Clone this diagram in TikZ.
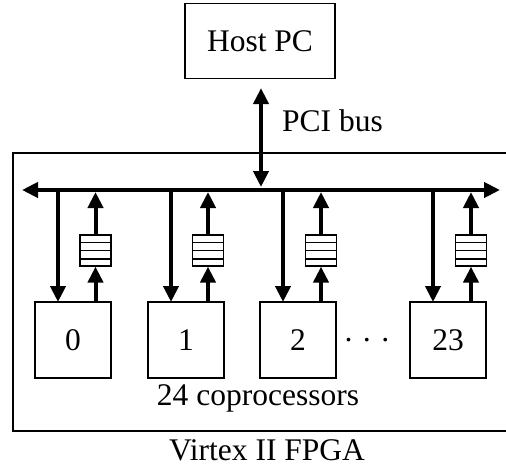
\documentclass[tikz,border=0pt]{standalone}
\usepackage{fontspec}
\setmainfont{Liberation Serif}
\usetikzlibrary{arrows.meta}
\begin{document}
\begin{tikzpicture}[x=1pt,y=-1pt,
  thinbox/.style={draw,line width=1.2pt,inner sep=0pt,minimum width=75pt,minimum height=75pt,font=\fontsize{31.5}{36}\selectfont},
  fifo/.style={draw,line width=1.2pt,inner sep=0pt,minimum width=31pt,minimum height=31pt},
  thick arrow/.style={line width=4pt,-{Triangle[length=16pt,width=15pt]}},
  lbl/.style={font=\fontsize{31.5}{36}\selectfont,inner sep=0pt}]
\useasboundingbox (0,0) rectangle (506,471);
% outer FPGA box (right edge outside the picture)
\draw[line width=1.2pt] (13,153) rectangle (520,431);
\node[thinbox,minimum width=150pt] (host) at (260,41) {Host PC};
\coordinate (busL) at (22,190);
\coordinate (busR) at (500,190);
\coordinate (busM) at (261,190);
\draw[line width=4pt,{Triangle[length=16pt,width=15pt]}-{Triangle[length=16pt,width=15pt]}] (busL) -- (busR);
\draw[line width=4pt,{Triangle[length=16pt,width=15pt]}-{Triangle[length=16pt,width=15pt]}] (host.south -| busM) ++(0,9) coordinate (pciT) (pciT) -- ([yshift=3pt]busM);
\node[lbl,anchor=west] (pci) at (282,121) {PCI bus};
% coprocessors
\foreach \name/\cx/\txt in {c0/73/0, c1/186/1, c2/298/2, c23/448/23}{
  \node[thinbox,minimum width=76pt,minimum height=76pt] (\name) at (\cx,340) {\txt};
}
\foreach \name/\dx/\ux in {c0/58/95.5, c1/171/208, c2/283/321, c23/433/471}{
  \node[fifo] (f\name) at (\ux,250.5) {};
  \draw[line width=1.2pt] ([yshift=7.7pt]f\name.south west) -- ([yshift=7.7pt]f\name.south east)
    ([yshift=-7.7pt]f\name.north west) -- ([yshift=-7.7pt]f\name.north east)
    (f\name.west) -- (f\name.east);
  \draw[thick arrow] (\dx,188) -- (\dx,302);
  \draw[thick arrow] (\ux,302) -- (f\name.south);
  \draw[thick arrow] (f\name.north) -- (\ux,192);
}
\node[lbl,anchor=base] (dots) at (c2.base -| 367,0) {·\hspace{8pt}·\hspace{8pt}·};
\node[lbl] (cop) at (258,398) {24 coprocessors};
\node[lbl] (fpga) at (267,450) {Virtex II FPGA};
\end{tikzpicture}
\end{document}
